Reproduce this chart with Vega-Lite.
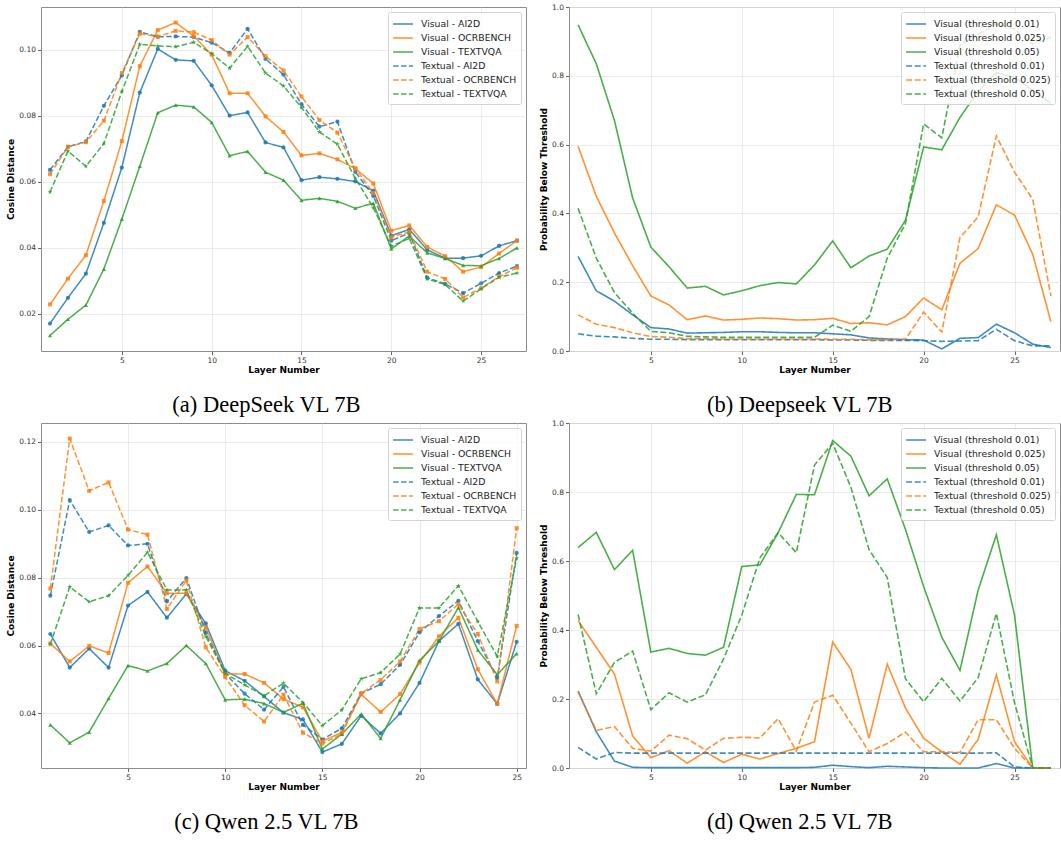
{
"$schema": "https://vega.github.io/schema/vega-lite/v6.json",
"background": "white",
"padding": {"left": 6, "top": 2, "right": 2, "bottom": 2},
"spacing": 1,
"resolve": {"scale": {"color": "independent", "strokeDash": "independent"}, "legend": {"color": "independent", "strokeDash": "independent"}},
"datasets": {
"a": [
{"layer":1,"series":"Visual - AI2D","value":0.0171},{"layer":2,"series":"Visual - AI2D","value":0.0249},{"layer":3,"series":"Visual - AI2D","value":0.0322},{"layer":4,"series":"Visual - AI2D","value":0.0476},{"layer":5,"series":"Visual - AI2D","value":0.0643},{"layer":6,"series":"Visual - AI2D","value":0.087},{"layer":7,"series":"Visual - AI2D","value":0.1002},{"layer":8,"series":"Visual - AI2D","value":0.0969},{"layer":9,"series":"Visual - AI2D","value":0.0966},{"layer":10,"series":"Visual - AI2D","value":0.0892},{"layer":11,"series":"Visual - AI2D","value":0.080},{"layer":12,"series":"Visual - AI2D","value":0.081},{"layer":13,"series":"Visual - AI2D","value":0.0719},{"layer":14,"series":"Visual - AI2D","value":0.0704},{"layer":15,"series":"Visual - AI2D","value":0.0605},{"layer":16,"series":"Visual - AI2D","value":0.0614},{"layer":17,"series":"Visual - AI2D","value":0.0609},{"layer":18,"series":"Visual - AI2D","value":0.0601},{"layer":19,"series":"Visual - AI2D","value":0.0573},{"layer":20,"series":"Visual - AI2D","value":0.0437},{"layer":21,"series":"Visual - AI2D","value":0.0456},{"layer":22,"series":"Visual - AI2D","value":0.0394},{"layer":23,"series":"Visual - AI2D","value":0.0369},{"layer":24,"series":"Visual - AI2D","value":0.0369},{"layer":25,"series":"Visual - AI2D","value":0.0376},{"layer":26,"series":"Visual - AI2D","value":0.0406},{"layer":27,"series":"Visual - AI2D","value":0.0422},
{"layer":1,"series":"Visual - OCRBENCH","value":0.0229},{"layer":2,"series":"Visual - OCRBENCH","value":0.0307},{"layer":3,"series":"Visual - OCRBENCH","value":0.0378},{"layer":4,"series":"Visual - OCRBENCH","value":0.0542},{"layer":5,"series":"Visual - OCRBENCH","value":0.0723},{"layer":6,"series":"Visual - OCRBENCH","value":0.095},{"layer":7,"series":"Visual - OCRBENCH","value":0.1059},{"layer":8,"series":"Visual - OCRBENCH","value":0.1082},{"layer":9,"series":"Visual - OCRBENCH","value":0.1041},{"layer":10,"series":"Visual - OCRBENCH","value":0.0985},{"layer":11,"series":"Visual - OCRBENCH","value":0.0868},{"layer":12,"series":"Visual - OCRBENCH","value":0.0868},{"layer":13,"series":"Visual - OCRBENCH","value":0.0798},{"layer":14,"series":"Visual - OCRBENCH","value":0.0751},{"layer":15,"series":"Visual - OCRBENCH","value":0.068},{"layer":16,"series":"Visual - OCRBENCH","value":0.0686},{"layer":17,"series":"Visual - OCRBENCH","value":0.0668},{"layer":18,"series":"Visual - OCRBENCH","value":0.064},{"layer":19,"series":"Visual - OCRBENCH","value":0.0595},{"layer":20,"series":"Visual - OCRBENCH","value":0.0452},{"layer":21,"series":"Visual - OCRBENCH","value":0.0468},{"layer":22,"series":"Visual - OCRBENCH","value":0.0403},{"layer":23,"series":"Visual - OCRBENCH","value":0.0375},{"layer":24,"series":"Visual - OCRBENCH","value":0.0328},{"layer":25,"series":"Visual - OCRBENCH","value":0.0342},{"layer":26,"series":"Visual - OCRBENCH","value":0.0383},{"layer":27,"series":"Visual - OCRBENCH","value":0.0422},
{"layer":1,"series":"Visual - TEXTVQA","value":0.0135},{"layer":2,"series":"Visual - TEXTVQA","value":0.0184},{"layer":3,"series":"Visual - TEXTVQA","value":0.0227},{"layer":4,"series":"Visual - TEXTVQA","value":0.0336},{"layer":5,"series":"Visual - TEXTVQA","value":0.0487},{"layer":6,"series":"Visual - TEXTVQA","value":0.0647},{"layer":7,"series":"Visual - TEXTVQA","value":0.0809},{"layer":8,"series":"Visual - TEXTVQA","value":0.0832},{"layer":9,"series":"Visual - TEXTVQA","value":0.0827},{"layer":10,"series":"Visual - TEXTVQA","value":0.078},{"layer":11,"series":"Visual - TEXTVQA","value":0.0679},{"layer":12,"series":"Visual - TEXTVQA","value":0.0692},{"layer":13,"series":"Visual - TEXTVQA","value":0.0629},{"layer":14,"series":"Visual - TEXTVQA","value":0.0605},{"layer":15,"series":"Visual - TEXTVQA","value":0.0544},{"layer":16,"series":"Visual - TEXTVQA","value":0.055},{"layer":17,"series":"Visual - TEXTVQA","value":0.0541},{"layer":18,"series":"Visual - TEXTVQA","value":0.052},{"layer":19,"series":"Visual - TEXTVQA","value":0.0535},{"layer":20,"series":"Visual - TEXTVQA","value":0.0397},{"layer":21,"series":"Visual - TEXTVQA","value":0.0436},{"layer":22,"series":"Visual - TEXTVQA","value":0.0385},{"layer":23,"series":"Visual - TEXTVQA","value":0.0368},{"layer":24,"series":"Visual - TEXTVQA","value":0.0347},{"layer":25,"series":"Visual - TEXTVQA","value":0.0346},{"layer":26,"series":"Visual - TEXTVQA","value":0.0368},{"layer":27,"series":"Visual - TEXTVQA","value":0.04},
{"layer":1,"series":"Textual - AI2D","value":0.0636},{"layer":2,"series":"Textual - AI2D","value":0.0706},{"layer":3,"series":"Textual - AI2D","value":0.0722},{"layer":4,"series":"Textual - AI2D","value":0.083},{"layer":5,"series":"Textual - AI2D","value":0.0922},{"layer":6,"series":"Textual - AI2D","value":0.1054},{"layer":7,"series":"Textual - AI2D","value":0.1039},{"layer":8,"series":"Textual - AI2D","value":0.104},{"layer":9,"series":"Textual - AI2D","value":0.1038},{"layer":10,"series":"Textual - AI2D","value":0.1021},{"layer":11,"series":"Textual - AI2D","value":0.099},{"layer":12,"series":"Textual - AI2D","value":0.1063},{"layer":13,"series":"Textual - AI2D","value":0.0972},{"layer":14,"series":"Textual - AI2D","value":0.0924},{"layer":15,"series":"Textual - AI2D","value":0.0835},{"layer":16,"series":"Textual - AI2D","value":0.0767},{"layer":17,"series":"Textual - AI2D","value":0.0782},{"layer":18,"series":"Textual - AI2D","value":0.063},{"layer":19,"series":"Textual - AI2D","value":0.0557},{"layer":20,"series":"Textual - AI2D","value":0.0422},{"layer":21,"series":"Textual - AI2D","value":0.0445},{"layer":22,"series":"Textual - AI2D","value":0.031},{"layer":23,"series":"Textual - AI2D","value":0.0291},{"layer":24,"series":"Textual - AI2D","value":0.0263},{"layer":25,"series":"Textual - AI2D","value":0.0293},{"layer":26,"series":"Textual - AI2D","value":0.0324},{"layer":27,"series":"Textual - AI2D","value":0.0345},
{"layer":1,"series":"Textual - OCRBENCH","value":0.0623},{"layer":2,"series":"Textual - OCRBENCH","value":0.0706},{"layer":3,"series":"Textual - OCRBENCH","value":0.072},{"layer":4,"series":"Textual - OCRBENCH","value":0.0785},{"layer":5,"series":"Textual - OCRBENCH","value":0.0929},{"layer":6,"series":"Textual - OCRBENCH","value":0.1048},{"layer":7,"series":"Textual - OCRBENCH","value":0.1039},{"layer":8,"series":"Textual - OCRBENCH","value":0.1057},{"layer":9,"series":"Textual - OCRBENCH","value":0.1053},{"layer":10,"series":"Textual - OCRBENCH","value":0.1029},{"layer":11,"series":"Textual - OCRBENCH","value":0.0985},{"layer":12,"series":"Textual - OCRBENCH","value":0.1038},{"layer":13,"series":"Textual - OCRBENCH","value":0.098},{"layer":14,"series":"Textual - OCRBENCH","value":0.0937},{"layer":15,"series":"Textual - OCRBENCH","value":0.0858},{"layer":16,"series":"Textual - OCRBENCH","value":0.0787},{"layer":17,"series":"Textual - OCRBENCH","value":0.0749},{"layer":18,"series":"Textual - OCRBENCH","value":0.064},{"layer":19,"series":"Textual - OCRBENCH","value":0.0566},{"layer":20,"series":"Textual - OCRBENCH","value":0.0432},{"layer":21,"series":"Textual - OCRBENCH","value":0.0449},{"layer":22,"series":"Textual - OCRBENCH","value":0.0328},{"layer":23,"series":"Textual - OCRBENCH","value":0.0306},{"layer":24,"series":"Textual - OCRBENCH","value":0.025},{"layer":25,"series":"Textual - OCRBENCH","value":0.0278},{"layer":26,"series":"Textual - OCRBENCH","value":0.0313},{"layer":27,"series":"Textual - OCRBENCH","value":0.034},
{"layer":1,"series":"Textual - TEXTVQA","value":0.0569},{"layer":2,"series":"Textual - TEXTVQA","value":0.0693},{"layer":3,"series":"Textual - TEXTVQA","value":0.0647},{"layer":4,"series":"Textual - TEXTVQA","value":0.0716},{"layer":5,"series":"Textual - TEXTVQA","value":0.0873},{"layer":6,"series":"Textual - TEXTVQA","value":0.1016},{"layer":7,"series":"Textual - TEXTVQA","value":0.1011},{"layer":8,"series":"Textual - TEXTVQA","value":0.1009},{"layer":9,"series":"Textual - TEXTVQA","value":0.1022},{"layer":10,"series":"Textual - TEXTVQA","value":0.0988},{"layer":11,"series":"Textual - TEXTVQA","value":0.0944},{"layer":12,"series":"Textual - TEXTVQA","value":0.101},{"layer":13,"series":"Textual - TEXTVQA","value":0.0929},{"layer":14,"series":"Textual - TEXTVQA","value":0.089},{"layer":15,"series":"Textual - TEXTVQA","value":0.0825},{"layer":16,"series":"Textual - TEXTVQA","value":0.0751},{"layer":17,"series":"Textual - TEXTVQA","value":0.0714},{"layer":18,"series":"Textual - TEXTVQA","value":0.061},{"layer":19,"series":"Textual - TEXTVQA","value":0.0522},{"layer":20,"series":"Textual - TEXTVQA","value":0.0405},{"layer":21,"series":"Textual - TEXTVQA","value":0.0429},{"layer":22,"series":"Textual - TEXTVQA","value":0.0306},{"layer":23,"series":"Textual - TEXTVQA","value":0.0289},{"layer":24,"series":"Textual - TEXTVQA","value":0.0239},{"layer":25,"series":"Textual - TEXTVQA","value":0.0276},{"layer":26,"series":"Textual - TEXTVQA","value":0.0311},{"layer":27,"series":"Textual - TEXTVQA","value":0.0324}
],
"b": [
{"layer":1,"series":"Visual (threshold 0.01)","value":0.275},{"layer":2,"series":"Visual (threshold 0.01)","value":0.175},{"layer":3,"series":"Visual (threshold 0.01)","value":0.145},{"layer":4,"series":"Visual (threshold 0.01)","value":0.105},{"layer":5,"series":"Visual (threshold 0.01)","value":0.068},{"layer":6,"series":"Visual (threshold 0.01)","value":0.064},{"layer":7,"series":"Visual (threshold 0.01)","value":0.052},{"layer":8,"series":"Visual (threshold 0.01)","value":0.053},{"layer":9,"series":"Visual (threshold 0.01)","value":0.054},{"layer":10,"series":"Visual (threshold 0.01)","value":0.056},{"layer":11,"series":"Visual (threshold 0.01)","value":0.056},{"layer":12,"series":"Visual (threshold 0.01)","value":0.054},{"layer":13,"series":"Visual (threshold 0.01)","value":0.053},{"layer":14,"series":"Visual (threshold 0.01)","value":0.053},{"layer":15,"series":"Visual (threshold 0.01)","value":0.05},{"layer":16,"series":"Visual (threshold 0.01)","value":0.047},{"layer":17,"series":"Visual (threshold 0.01)","value":0.038},{"layer":18,"series":"Visual (threshold 0.01)","value":0.035},{"layer":19,"series":"Visual (threshold 0.01)","value":0.033},{"layer":20,"series":"Visual (threshold 0.01)","value":0.032},{"layer":21,"series":"Visual (threshold 0.01)","value":0.006},{"layer":22,"series":"Visual (threshold 0.01)","value":0.037},{"layer":23,"series":"Visual (threshold 0.01)","value":0.039},{"layer":24,"series":"Visual (threshold 0.01)","value":0.078},{"layer":25,"series":"Visual (threshold 0.01)","value":0.053},{"layer":26,"series":"Visual (threshold 0.01)","value":0.02},{"layer":27,"series":"Visual (threshold 0.01)","value":0.01},
{"layer":1,"series":"Visual (threshold 0.025)","value":0.595},{"layer":2,"series":"Visual (threshold 0.025)","value":0.45},{"layer":3,"series":"Visual (threshold 0.025)","value":0.343},{"layer":4,"series":"Visual (threshold 0.025)","value":0.248},{"layer":5,"series":"Visual (threshold 0.025)","value":0.16},{"layer":6,"series":"Visual (threshold 0.025)","value":0.134},{"layer":7,"series":"Visual (threshold 0.025)","value":0.091},{"layer":8,"series":"Visual (threshold 0.025)","value":0.102},{"layer":9,"series":"Visual (threshold 0.025)","value":0.09},{"layer":10,"series":"Visual (threshold 0.025)","value":0.092},{"layer":11,"series":"Visual (threshold 0.025)","value":0.096},{"layer":12,"series":"Visual (threshold 0.025)","value":0.094},{"layer":13,"series":"Visual (threshold 0.025)","value":0.09},{"layer":14,"series":"Visual (threshold 0.025)","value":0.091},{"layer":15,"series":"Visual (threshold 0.025)","value":0.095},{"layer":16,"series":"Visual (threshold 0.025)","value":0.08},{"layer":17,"series":"Visual (threshold 0.025)","value":0.082},{"layer":18,"series":"Visual (threshold 0.025)","value":0.076},{"layer":19,"series":"Visual (threshold 0.025)","value":0.1},{"layer":20,"series":"Visual (threshold 0.025)","value":0.154},{"layer":21,"series":"Visual (threshold 0.025)","value":0.12},{"layer":22,"series":"Visual (threshold 0.025)","value":0.255},{"layer":23,"series":"Visual (threshold 0.025)","value":0.298},{"layer":24,"series":"Visual (threshold 0.025)","value":0.425},{"layer":25,"series":"Visual (threshold 0.025)","value":0.395},{"layer":26,"series":"Visual (threshold 0.025)","value":0.281},{"layer":27,"series":"Visual (threshold 0.025)","value":0.085},
{"layer":1,"series":"Visual (threshold 0.05)","value":0.948},{"layer":2,"series":"Visual (threshold 0.05)","value":0.835},{"layer":3,"series":"Visual (threshold 0.05)","value":0.67},{"layer":4,"series":"Visual (threshold 0.05)","value":0.445},{"layer":5,"series":"Visual (threshold 0.05)","value":0.302},{"layer":6,"series":"Visual (threshold 0.05)","value":0.245},{"layer":7,"series":"Visual (threshold 0.05)","value":0.183},{"layer":8,"series":"Visual (threshold 0.05)","value":0.188},{"layer":9,"series":"Visual (threshold 0.05)","value":0.163},{"layer":10,"series":"Visual (threshold 0.05)","value":0.175},{"layer":11,"series":"Visual (threshold 0.05)","value":0.19},{"layer":12,"series":"Visual (threshold 0.05)","value":0.199},{"layer":13,"series":"Visual (threshold 0.05)","value":0.195},{"layer":14,"series":"Visual (threshold 0.05)","value":0.25},{"layer":15,"series":"Visual (threshold 0.05)","value":0.32},{"layer":16,"series":"Visual (threshold 0.05)","value":0.242},{"layer":17,"series":"Visual (threshold 0.05)","value":0.276},{"layer":18,"series":"Visual (threshold 0.05)","value":0.296},{"layer":19,"series":"Visual (threshold 0.05)","value":0.38},{"layer":20,"series":"Visual (threshold 0.05)","value":0.593},{"layer":21,"series":"Visual (threshold 0.05)","value":0.585},{"layer":22,"series":"Visual (threshold 0.05)","value":0.679},{"layer":23,"series":"Visual (threshold 0.05)","value":0.755},{"layer":24,"series":"Visual (threshold 0.05)","value":0.809},{"layer":25,"series":"Visual (threshold 0.05)","value":0.795},{"layer":26,"series":"Visual (threshold 0.05)","value":0.758},{"layer":27,"series":"Visual (threshold 0.05)","value":0.72},
{"layer":1,"series":"Textual (threshold 0.01)","value":0.05},{"layer":2,"series":"Textual (threshold 0.01)","value":0.043},{"layer":3,"series":"Textual (threshold 0.01)","value":0.041},{"layer":4,"series":"Textual (threshold 0.01)","value":0.037},{"layer":5,"series":"Textual (threshold 0.01)","value":0.034},{"layer":6,"series":"Textual (threshold 0.01)","value":0.034},{"layer":7,"series":"Textual (threshold 0.01)","value":0.033},{"layer":8,"series":"Textual (threshold 0.01)","value":0.033},{"layer":9,"series":"Textual (threshold 0.01)","value":0.033},{"layer":10,"series":"Textual (threshold 0.01)","value":0.033},{"layer":11,"series":"Textual (threshold 0.01)","value":0.033},{"layer":12,"series":"Textual (threshold 0.01)","value":0.033},{"layer":13,"series":"Textual (threshold 0.01)","value":0.033},{"layer":14,"series":"Textual (threshold 0.01)","value":0.033},{"layer":15,"series":"Textual (threshold 0.01)","value":0.032},{"layer":16,"series":"Textual (threshold 0.01)","value":0.032},{"layer":17,"series":"Textual (threshold 0.01)","value":0.031},{"layer":18,"series":"Textual (threshold 0.01)","value":0.031},{"layer":19,"series":"Textual (threshold 0.01)","value":0.031},{"layer":20,"series":"Textual (threshold 0.01)","value":0.03},{"layer":21,"series":"Textual (threshold 0.01)","value":0.028},{"layer":22,"series":"Textual (threshold 0.01)","value":0.029},{"layer":23,"series":"Textual (threshold 0.01)","value":0.03},{"layer":24,"series":"Textual (threshold 0.01)","value":0.063},{"layer":25,"series":"Textual (threshold 0.01)","value":0.03},{"layer":26,"series":"Textual (threshold 0.01)","value":0.015},{"layer":27,"series":"Textual (threshold 0.01)","value":0.015},
{"layer":1,"series":"Textual (threshold 0.025)","value":0.105},{"layer":2,"series":"Textual (threshold 0.025)","value":0.078},{"layer":3,"series":"Textual (threshold 0.025)","value":0.068},{"layer":4,"series":"Textual (threshold 0.025)","value":0.053},{"layer":5,"series":"Textual (threshold 0.025)","value":0.042},{"layer":6,"series":"Textual (threshold 0.025)","value":0.04},{"layer":7,"series":"Textual (threshold 0.025)","value":0.036},{"layer":8,"series":"Textual (threshold 0.025)","value":0.036},{"layer":9,"series":"Textual (threshold 0.025)","value":0.035},{"layer":10,"series":"Textual (threshold 0.025)","value":0.035},{"layer":11,"series":"Textual (threshold 0.025)","value":0.035},{"layer":12,"series":"Textual (threshold 0.025)","value":0.035},{"layer":13,"series":"Textual (threshold 0.025)","value":0.035},{"layer":14,"series":"Textual (threshold 0.025)","value":0.035},{"layer":15,"series":"Textual (threshold 0.025)","value":0.034},{"layer":16,"series":"Textual (threshold 0.025)","value":0.034},{"layer":17,"series":"Textual (threshold 0.025)","value":0.033},{"layer":18,"series":"Textual (threshold 0.025)","value":0.033},{"layer":19,"series":"Textual (threshold 0.025)","value":0.034},{"layer":20,"series":"Textual (threshold 0.025)","value":0.113},{"layer":21,"series":"Textual (threshold 0.025)","value":0.055},{"layer":22,"series":"Textual (threshold 0.025)","value":0.33},{"layer":23,"series":"Textual (threshold 0.025)","value":0.39},{"layer":24,"series":"Textual (threshold 0.025)","value":0.625},{"layer":25,"series":"Textual (threshold 0.025)","value":0.52},{"layer":26,"series":"Textual (threshold 0.025)","value":0.441},{"layer":27,"series":"Textual (threshold 0.025)","value":0.16},
{"layer":1,"series":"Textual (threshold 0.05)","value":0.415},{"layer":2,"series":"Textual (threshold 0.05)","value":0.27},{"layer":3,"series":"Textual (threshold 0.05)","value":0.17},{"layer":4,"series":"Textual (threshold 0.05)","value":0.11},{"layer":5,"series":"Textual (threshold 0.05)","value":0.057},{"layer":6,"series":"Textual (threshold 0.05)","value":0.053},{"layer":7,"series":"Textual (threshold 0.05)","value":0.043},{"layer":8,"series":"Textual (threshold 0.05)","value":0.041},{"layer":9,"series":"Textual (threshold 0.05)","value":0.04},{"layer":10,"series":"Textual (threshold 0.05)","value":0.04},{"layer":11,"series":"Textual (threshold 0.05)","value":0.04},{"layer":12,"series":"Textual (threshold 0.05)","value":0.04},{"layer":13,"series":"Textual (threshold 0.05)","value":0.04},{"layer":14,"series":"Textual (threshold 0.05)","value":0.04},{"layer":15,"series":"Textual (threshold 0.05)","value":0.075},{"layer":16,"series":"Textual (threshold 0.05)","value":0.057},{"layer":17,"series":"Textual (threshold 0.05)","value":0.1},{"layer":18,"series":"Textual (threshold 0.05)","value":0.27},{"layer":19,"series":"Textual (threshold 0.05)","value":0.37},{"layer":20,"series":"Textual (threshold 0.05)","value":0.66},{"layer":21,"series":"Textual (threshold 0.05)","value":0.62},{"layer":22,"series":"Textual (threshold 0.05)","value":0.89},{"layer":23,"series":"Textual (threshold 0.05)","value":0.92},{"layer":24,"series":"Textual (threshold 0.05)","value":0.951},{"layer":25,"series":"Textual (threshold 0.05)","value":0.936},{"layer":26,"series":"Textual (threshold 0.05)","value":0.892},{"layer":27,"series":"Textual (threshold 0.05)","value":0.912}
],
"c": [
{"layer":1,"series":"Visual - AI2D","value":0.0634},{"layer":2,"series":"Visual - AI2D","value":0.0535},{"layer":3,"series":"Visual - AI2D","value":0.0591},{"layer":4,"series":"Visual - AI2D","value":0.0535},{"layer":5,"series":"Visual - AI2D","value":0.0718},{"layer":6,"series":"Visual - AI2D","value":0.0758},{"layer":7,"series":"Visual - AI2D","value":0.0682},{"layer":8,"series":"Visual - AI2D","value":0.0752},{"layer":9,"series":"Visual - AI2D","value":0.0665},{"layer":10,"series":"Visual - AI2D","value":0.0526},{"layer":11,"series":"Visual - AI2D","value":0.0496},{"layer":12,"series":"Visual - AI2D","value":0.045},{"layer":13,"series":"Visual - AI2D","value":0.0402},{"layer":14,"series":"Visual - AI2D","value":0.0382},{"layer":15,"series":"Visual - AI2D","value":0.0286},{"layer":16,"series":"Visual - AI2D","value":0.031},{"layer":17,"series":"Visual - AI2D","value":0.0393},{"layer":18,"series":"Visual - AI2D","value":0.0341},{"layer":19,"series":"Visual - AI2D","value":0.040},{"layer":20,"series":"Visual - AI2D","value":0.049},{"layer":21,"series":"Visual - AI2D","value":0.0613},{"layer":22,"series":"Visual - AI2D","value":0.0664},{"layer":23,"series":"Visual - AI2D","value":0.05},{"layer":24,"series":"Visual - AI2D","value":0.0428},{"layer":25,"series":"Visual - AI2D","value":0.0611},
{"layer":1,"series":"Visual - OCRBENCH","value":0.0606},{"layer":2,"series":"Visual - OCRBENCH","value":0.0553},{"layer":3,"series":"Visual - OCRBENCH","value":0.0599},{"layer":4,"series":"Visual - OCRBENCH","value":0.0578},{"layer":5,"series":"Visual - OCRBENCH","value":0.0785},{"layer":6,"series":"Visual - OCRBENCH","value":0.0833},{"layer":7,"series":"Visual - OCRBENCH","value":0.0754},{"layer":8,"series":"Visual - OCRBENCH","value":0.0754},{"layer":9,"series":"Visual - OCRBENCH","value":0.0653},{"layer":10,"series":"Visual - OCRBENCH","value":0.0516},{"layer":11,"series":"Visual - OCRBENCH","value":0.0516},{"layer":12,"series":"Visual - OCRBENCH","value":0.049},{"layer":13,"series":"Visual - OCRBENCH","value":0.0442},{"layer":14,"series":"Visual - OCRBENCH","value":0.0418},{"layer":15,"series":"Visual - OCRBENCH","value":0.0318},{"layer":16,"series":"Visual - OCRBENCH","value":0.0344},{"layer":17,"series":"Visual - OCRBENCH","value":0.0456},{"layer":18,"series":"Visual - OCRBENCH","value":0.0404},{"layer":19,"series":"Visual - OCRBENCH","value":0.0457},{"layer":20,"series":"Visual - OCRBENCH","value":0.055},{"layer":21,"series":"Visual - OCRBENCH","value":0.0627},{"layer":22,"series":"Visual - OCRBENCH","value":0.0682},{"layer":23,"series":"Visual - OCRBENCH","value":0.053},{"layer":24,"series":"Visual - OCRBENCH","value":0.0428},{"layer":25,"series":"Visual - OCRBENCH","value":0.0658},
{"layer":1,"series":"Visual - TEXTVQA","value":0.0366},{"layer":2,"series":"Visual - TEXTVQA","value":0.0313},{"layer":3,"series":"Visual - TEXTVQA","value":0.0345},{"layer":4,"series":"Visual - TEXTVQA","value":0.0444},{"layer":5,"series":"Visual - TEXTVQA","value":0.0541},{"layer":6,"series":"Visual - TEXTVQA","value":0.0525},{"layer":7,"series":"Visual - TEXTVQA","value":0.0547},{"layer":8,"series":"Visual - TEXTVQA","value":0.06},{"layer":9,"series":"Visual - TEXTVQA","value":0.0547},{"layer":10,"series":"Visual - TEXTVQA","value":0.044},{"layer":11,"series":"Visual - TEXTVQA","value":0.0442},{"layer":12,"series":"Visual - TEXTVQA","value":0.0429},{"layer":13,"series":"Visual - TEXTVQA","value":0.0403},{"layer":14,"series":"Visual - TEXTVQA","value":0.043},{"layer":15,"series":"Visual - TEXTVQA","value":0.0295},{"layer":16,"series":"Visual - TEXTVQA","value":0.0339},{"layer":17,"series":"Visual - TEXTVQA","value":0.0398},{"layer":18,"series":"Visual - TEXTVQA","value":0.0326},{"layer":19,"series":"Visual - TEXTVQA","value":0.044},{"layer":20,"series":"Visual - TEXTVQA","value":0.0556},{"layer":21,"series":"Visual - TEXTVQA","value":0.0613},{"layer":22,"series":"Visual - TEXTVQA","value":0.0712},{"layer":23,"series":"Visual - TEXTVQA","value":0.0587},{"layer":24,"series":"Visual - TEXTVQA","value":0.0514},{"layer":25,"series":"Visual - TEXTVQA","value":0.0576},
{"layer":1,"series":"Textual - AI2D","value":0.0747},{"layer":2,"series":"Textual - AI2D","value":0.1029},{"layer":3,"series":"Textual - AI2D","value":0.0935},{"layer":4,"series":"Textual - AI2D","value":0.0954},{"layer":5,"series":"Textual - AI2D","value":0.0895},{"layer":6,"series":"Textual - AI2D","value":0.09},{"layer":7,"series":"Textual - AI2D","value":0.073},{"layer":8,"series":"Textual - AI2D","value":0.0799},{"layer":9,"series":"Textual - AI2D","value":0.0637},{"layer":10,"series":"Textual - AI2D","value":0.0518},{"layer":11,"series":"Textual - AI2D","value":0.0458},{"layer":12,"series":"Textual - AI2D","value":0.0411},{"layer":13,"series":"Textual - AI2D","value":0.0478},{"layer":14,"series":"Textual - AI2D","value":0.0366},{"layer":15,"series":"Textual - AI2D","value":0.0323},{"layer":16,"series":"Textual - AI2D","value":0.0356},{"layer":17,"series":"Textual - AI2D","value":0.0459},{"layer":18,"series":"Textual - AI2D","value":0.0486},{"layer":19,"series":"Textual - AI2D","value":0.0543},{"layer":20,"series":"Textual - AI2D","value":0.0639},{"layer":21,"series":"Textual - AI2D","value":0.0687},{"layer":22,"series":"Textual - AI2D","value":0.0732},{"layer":23,"series":"Textual - AI2D","value":0.0613},{"layer":24,"series":"Textual - AI2D","value":0.0505},{"layer":25,"series":"Textual - AI2D","value":0.0873},
{"layer":1,"series":"Textual - OCRBENCH","value":0.0768},{"layer":2,"series":"Textual - OCRBENCH","value":0.121},{"layer":3,"series":"Textual - OCRBENCH","value":0.1056},{"layer":4,"series":"Textual - OCRBENCH","value":0.1081},{"layer":5,"series":"Textual - OCRBENCH","value":0.0942},{"layer":6,"series":"Textual - OCRBENCH","value":0.0927},{"layer":7,"series":"Textual - OCRBENCH","value":0.0708},{"layer":8,"series":"Textual - OCRBENCH","value":0.0792},{"layer":9,"series":"Textual - OCRBENCH","value":0.0595},{"layer":10,"series":"Textual - OCRBENCH","value":0.0507},{"layer":11,"series":"Textual - OCRBENCH","value":0.0424},{"layer":12,"series":"Textual - OCRBENCH","value":0.0376},{"layer":13,"series":"Textual - OCRBENCH","value":0.0455},{"layer":14,"series":"Textual - OCRBENCH","value":0.0343},{"layer":15,"series":"Textual - OCRBENCH","value":0.0311},{"layer":16,"series":"Textual - OCRBENCH","value":0.0339},{"layer":17,"series":"Textual - OCRBENCH","value":0.0459},{"layer":18,"series":"Textual - OCRBENCH","value":0.0499},{"layer":19,"series":"Textual - OCRBENCH","value":0.0553},{"layer":20,"series":"Textual - OCRBENCH","value":0.0649},{"layer":21,"series":"Textual - OCRBENCH","value":0.0672},{"layer":22,"series":"Textual - OCRBENCH","value":0.0722},{"layer":23,"series":"Textual - OCRBENCH","value":0.0634},{"layer":24,"series":"Textual - OCRBENCH","value":0.0494},{"layer":25,"series":"Textual - OCRBENCH","value":0.0946},
{"layer":1,"series":"Textual - TEXTVQA","value":0.0604},{"layer":2,"series":"Textual - TEXTVQA","value":0.0773},{"layer":3,"series":"Textual - TEXTVQA","value":0.0729},{"layer":4,"series":"Textual - TEXTVQA","value":0.0747},{"layer":5,"series":"Textual - TEXTVQA","value":0.0807},{"layer":6,"series":"Textual - TEXTVQA","value":0.0875},{"layer":7,"series":"Textual - TEXTVQA","value":0.0764},{"layer":8,"series":"Textual - TEXTVQA","value":0.0764},{"layer":9,"series":"Textual - TEXTVQA","value":0.0627},{"layer":10,"series":"Textual - TEXTVQA","value":0.0518},{"layer":11,"series":"Textual - TEXTVQA","value":0.0484},{"layer":12,"series":"Textual - TEXTVQA","value":0.0452},{"layer":13,"series":"Textual - TEXTVQA","value":0.0489},{"layer":14,"series":"Textual - TEXTVQA","value":0.0432},{"layer":15,"series":"Textual - TEXTVQA","value":0.0364},{"layer":16,"series":"Textual - TEXTVQA","value":0.041},{"layer":17,"series":"Textual - TEXTVQA","value":0.0502},{"layer":18,"series":"Textual - TEXTVQA","value":0.052},{"layer":19,"series":"Textual - TEXTVQA","value":0.0575},{"layer":20,"series":"Textual - TEXTVQA","value":0.0711},{"layer":21,"series":"Textual - TEXTVQA","value":0.0711},{"layer":22,"series":"Textual - TEXTVQA","value":0.0776},{"layer":23,"series":"Textual - TEXTVQA","value":0.0671},{"layer":24,"series":"Textual - TEXTVQA","value":0.0568},{"layer":25,"series":"Textual - TEXTVQA","value":0.0858}
],
"d": [
{"layer":1,"series":"Visual (threshold 0.01)","value":0.223},{"layer":2,"series":"Visual (threshold 0.01)","value":0.105},{"layer":3,"series":"Visual (threshold 0.01)","value":0.02},{"layer":4,"series":"Visual (threshold 0.01)","value":0.002},{"layer":5,"series":"Visual (threshold 0.01)","value":0.001},{"layer":6,"series":"Visual (threshold 0.01)","value":0.001},{"layer":7,"series":"Visual (threshold 0.01)","value":0.001},{"layer":8,"series":"Visual (threshold 0.01)","value":0.001},{"layer":9,"series":"Visual (threshold 0.01)","value":0.001},{"layer":10,"series":"Visual (threshold 0.01)","value":0.001},{"layer":11,"series":"Visual (threshold 0.01)","value":0.001},{"layer":12,"series":"Visual (threshold 0.01)","value":0.001},{"layer":13,"series":"Visual (threshold 0.01)","value":0.001},{"layer":14,"series":"Visual (threshold 0.01)","value":0.002},{"layer":15,"series":"Visual (threshold 0.01)","value":0.008},{"layer":16,"series":"Visual (threshold 0.01)","value":0.004},{"layer":17,"series":"Visual (threshold 0.01)","value":0.001},{"layer":18,"series":"Visual (threshold 0.01)","value":0.005},{"layer":19,"series":"Visual (threshold 0.01)","value":0.003},{"layer":20,"series":"Visual (threshold 0.01)","value":0.001},{"layer":21,"series":"Visual (threshold 0.01)","value":0.0},{"layer":22,"series":"Visual (threshold 0.01)","value":0.0},{"layer":23,"series":"Visual (threshold 0.01)","value":0.0},{"layer":24,"series":"Visual (threshold 0.01)","value":0.013},{"layer":25,"series":"Visual (threshold 0.01)","value":0.0},{"layer":26,"series":"Visual (threshold 0.01)","value":0.0},{"layer":27,"series":"Visual (threshold 0.01)","value":0.0},
{"layer":1,"series":"Visual (threshold 0.025)","value":0.427},{"layer":2,"series":"Visual (threshold 0.025)","value":0.35},{"layer":3,"series":"Visual (threshold 0.025)","value":0.272},{"layer":4,"series":"Visual (threshold 0.025)","value":0.093},{"layer":5,"series":"Visual (threshold 0.025)","value":0.03},{"layer":6,"series":"Visual (threshold 0.025)","value":0.05},{"layer":7,"series":"Visual (threshold 0.025)","value":0.014},{"layer":8,"series":"Visual (threshold 0.025)","value":0.047},{"layer":9,"series":"Visual (threshold 0.025)","value":0.016},{"layer":10,"series":"Visual (threshold 0.025)","value":0.04},{"layer":11,"series":"Visual (threshold 0.025)","value":0.026},{"layer":12,"series":"Visual (threshold 0.025)","value":0.042},{"layer":13,"series":"Visual (threshold 0.025)","value":0.057},{"layer":14,"series":"Visual (threshold 0.025)","value":0.076},{"layer":15,"series":"Visual (threshold 0.025)","value":0.365},{"layer":16,"series":"Visual (threshold 0.025)","value":0.286},{"layer":17,"series":"Visual (threshold 0.025)","value":0.086},{"layer":18,"series":"Visual (threshold 0.025)","value":0.301},{"layer":19,"series":"Visual (threshold 0.025)","value":0.174},{"layer":20,"series":"Visual (threshold 0.025)","value":0.086},{"layer":21,"series":"Visual (threshold 0.025)","value":0.047},{"layer":22,"series":"Visual (threshold 0.025)","value":0.011},{"layer":23,"series":"Visual (threshold 0.025)","value":0.083},{"layer":24,"series":"Visual (threshold 0.025)","value":0.27},{"layer":25,"series":"Visual (threshold 0.025)","value":0.076},{"layer":26,"series":"Visual (threshold 0.025)","value":0.0},{"layer":27,"series":"Visual (threshold 0.025)","value":0.0},
{"layer":1,"series":"Visual (threshold 0.05)","value":0.639},{"layer":2,"series":"Visual (threshold 0.05)","value":0.683},{"layer":3,"series":"Visual (threshold 0.05)","value":0.575},{"layer":4,"series":"Visual (threshold 0.05)","value":0.631},{"layer":5,"series":"Visual (threshold 0.05)","value":0.336},{"layer":6,"series":"Visual (threshold 0.05)","value":0.347},{"layer":7,"series":"Visual (threshold 0.05)","value":0.332},{"layer":8,"series":"Visual (threshold 0.05)","value":0.327},{"layer":9,"series":"Visual (threshold 0.05)","value":0.35},{"layer":10,"series":"Visual (threshold 0.05)","value":0.584},{"layer":11,"series":"Visual (threshold 0.05)","value":0.589},{"layer":12,"series":"Visual (threshold 0.05)","value":0.682},{"layer":13,"series":"Visual (threshold 0.05)","value":0.793},{"layer":14,"series":"Visual (threshold 0.05)","value":0.792},{"layer":15,"series":"Visual (threshold 0.05)","value":0.949},{"layer":16,"series":"Visual (threshold 0.05)","value":0.904},{"layer":17,"series":"Visual (threshold 0.05)","value":0.789},{"layer":18,"series":"Visual (threshold 0.05)","value":0.838},{"layer":19,"series":"Visual (threshold 0.05)","value":0.692},{"layer":20,"series":"Visual (threshold 0.05)","value":0.526},{"layer":21,"series":"Visual (threshold 0.05)","value":0.379},{"layer":22,"series":"Visual (threshold 0.05)","value":0.283},{"layer":23,"series":"Visual (threshold 0.05)","value":0.516},{"layer":24,"series":"Visual (threshold 0.05)","value":0.676},{"layer":25,"series":"Visual (threshold 0.05)","value":0.443},{"layer":26,"series":"Visual (threshold 0.05)","value":0.0},{"layer":27,"series":"Visual (threshold 0.05)","value":0.0},
{"layer":1,"series":"Textual (threshold 0.01)","value":0.06},{"layer":2,"series":"Textual (threshold 0.01)","value":0.026},{"layer":3,"series":"Textual (threshold 0.01)","value":0.045},{"layer":4,"series":"Textual (threshold 0.01)","value":0.043},{"layer":5,"series":"Textual (threshold 0.01)","value":0.043},{"layer":6,"series":"Textual (threshold 0.01)","value":0.043},{"layer":7,"series":"Textual (threshold 0.01)","value":0.043},{"layer":8,"series":"Textual (threshold 0.01)","value":0.043},{"layer":9,"series":"Textual (threshold 0.01)","value":0.043},{"layer":10,"series":"Textual (threshold 0.01)","value":0.043},{"layer":11,"series":"Textual (threshold 0.01)","value":0.043},{"layer":12,"series":"Textual (threshold 0.01)","value":0.043},{"layer":13,"series":"Textual (threshold 0.01)","value":0.043},{"layer":14,"series":"Textual (threshold 0.01)","value":0.043},{"layer":15,"series":"Textual (threshold 0.01)","value":0.043},{"layer":16,"series":"Textual (threshold 0.01)","value":0.043},{"layer":17,"series":"Textual (threshold 0.01)","value":0.043},{"layer":18,"series":"Textual (threshold 0.01)","value":0.043},{"layer":19,"series":"Textual (threshold 0.01)","value":0.043},{"layer":20,"series":"Textual (threshold 0.01)","value":0.043},{"layer":21,"series":"Textual (threshold 0.01)","value":0.043},{"layer":22,"series":"Textual (threshold 0.01)","value":0.043},{"layer":23,"series":"Textual (threshold 0.01)","value":0.043},{"layer":24,"series":"Textual (threshold 0.01)","value":0.044},{"layer":25,"series":"Textual (threshold 0.01)","value":0.003},{"layer":26,"series":"Textual (threshold 0.01)","value":0.0},{"layer":27,"series":"Textual (threshold 0.01)","value":0.0},
{"layer":1,"series":"Textual (threshold 0.025)","value":0.22},{"layer":2,"series":"Textual (threshold 0.025)","value":0.109},{"layer":3,"series":"Textual (threshold 0.025)","value":0.12},{"layer":4,"series":"Textual (threshold 0.025)","value":0.057},{"layer":5,"series":"Textual (threshold 0.025)","value":0.049},{"layer":6,"series":"Textual (threshold 0.025)","value":0.095},{"layer":7,"series":"Textual (threshold 0.025)","value":0.085},{"layer":8,"series":"Textual (threshold 0.025)","value":0.052},{"layer":9,"series":"Textual (threshold 0.025)","value":0.086},{"layer":10,"series":"Textual (threshold 0.025)","value":0.089},{"layer":11,"series":"Textual (threshold 0.025)","value":0.087},{"layer":12,"series":"Textual (threshold 0.025)","value":0.143},{"layer":13,"series":"Textual (threshold 0.025)","value":0.049},{"layer":14,"series":"Textual (threshold 0.025)","value":0.191},{"layer":15,"series":"Textual (threshold 0.025)","value":0.211},{"layer":16,"series":"Textual (threshold 0.025)","value":0.13},{"layer":17,"series":"Textual (threshold 0.025)","value":0.047},{"layer":18,"series":"Textual (threshold 0.025)","value":0.071},{"layer":19,"series":"Textual (threshold 0.025)","value":0.104},{"layer":20,"series":"Textual (threshold 0.025)","value":0.047},{"layer":21,"series":"Textual (threshold 0.025)","value":0.047},{"layer":22,"series":"Textual (threshold 0.025)","value":0.045},{"layer":23,"series":"Textual (threshold 0.025)","value":0.14},{"layer":24,"series":"Textual (threshold 0.025)","value":0.14},{"layer":25,"series":"Textual (threshold 0.025)","value":0.057},{"layer":26,"series":"Textual (threshold 0.025)","value":0.0},{"layer":27,"series":"Textual (threshold 0.025)","value":0.0},
{"layer":1,"series":"Textual (threshold 0.05)","value":0.445},{"layer":2,"series":"Textual (threshold 0.05)","value":0.215},{"layer":3,"series":"Textual (threshold 0.05)","value":0.306},{"layer":4,"series":"Textual (threshold 0.05)","value":0.339},{"layer":5,"series":"Textual (threshold 0.05)","value":0.169},{"layer":6,"series":"Textual (threshold 0.05)","value":0.218},{"layer":7,"series":"Textual (threshold 0.05)","value":0.191},{"layer":8,"series":"Textual (threshold 0.05)","value":0.212},{"layer":9,"series":"Textual (threshold 0.05)","value":0.316},{"layer":10,"series":"Textual (threshold 0.05)","value":0.443},{"layer":11,"series":"Textual (threshold 0.05)","value":0.609},{"layer":12,"series":"Textual (threshold 0.05)","value":0.682},{"layer":13,"series":"Textual (threshold 0.05)","value":0.624},{"layer":14,"series":"Textual (threshold 0.05)","value":0.878},{"layer":15,"series":"Textual (threshold 0.05)","value":0.941},{"layer":16,"series":"Textual (threshold 0.05)","value":0.814},{"layer":17,"series":"Textual (threshold 0.05)","value":0.633},{"layer":18,"series":"Textual (threshold 0.05)","value":0.552},{"layer":19,"series":"Textual (threshold 0.05)","value":0.259},{"layer":20,"series":"Textual (threshold 0.05)","value":0.192},{"layer":21,"series":"Textual (threshold 0.05)","value":0.26},{"layer":22,"series":"Textual (threshold 0.05)","value":0.194},{"layer":23,"series":"Textual (threshold 0.05)","value":0.262},{"layer":24,"series":"Textual (threshold 0.05)","value":0.448},{"layer":25,"series":"Textual (threshold 0.05)","value":0.189},{"layer":26,"series":"Textual (threshold 0.05)","value":0.0},{"layer":27,"series":"Textual (threshold 0.05)","value":0.0}
]
},
"vconcat": [
{"hconcat": [
{"width": 485, "height": 344, "data": {"name": "a"},
 "title": {"text": "(a) DeepSeek VL 7B"},
 "encoding": {
  "x": {"field": "layer", "type": "quantitative", "scale": {"domain": [0.5, 27.5], "nice": false, "zero": false}, "axis": {"values": [5, 10, 15, 20, 25], "title": "Layer Number"}},
  "y": {"field": "value", "type": "quantitative", "scale": {"domain": [0.0088, 0.1129], "nice": false, "zero": false}, "axis": {"values": [0.02, 0.04, 0.06, 0.08, 0.10], "format": ".2f", "title": "Cosine Distance"}}
 },
 "layer": [
  {"mark": {"type": "line", "strokeWidth": 1.5, "opacity": 0.85},
   "encoding": {
    "color": {"field": "series", "type": "nominal", "scale": {"domain": ["Visual - AI2D", "Visual - OCRBENCH", "Visual - TEXTVQA", "Textual - AI2D", "Textual - OCRBENCH", "Textual - TEXTVQA"], "range": ["#1f77b4", "#ff7f0e", "#2ca02c", "#1f77b4", "#ff7f0e", "#2ca02c"]}, "legend": {"title": null, "symbolType": "M-1,0H1.9"}},
    "strokeDash": {"field": "series", "type": "nominal", "scale": {"domain": ["Visual - AI2D", "Visual - OCRBENCH", "Visual - TEXTVQA", "Textual - AI2D", "Textual - OCRBENCH", "Textual - TEXTVQA"], "range": [[1, 0], [1, 0], [1, 0], [5.5, 2.4], [5.5, 2.4], [5.5, 2.4]]}, "legend": {"title": null, "symbolType": "M-1,0H1.9"}}
   }},
  {"transform": [{"filter": {"field": "series", "oneOf": ["Visual - AI2D", "Textual - AI2D"]}}],
   "mark": {"type": "point", "shape": "circle", "filled": true, "opacity": 0.85, "size": 18},
   "encoding": {"color": {"field": "series", "type": "nominal", "legend": null}}},
  {"transform": [{"filter": {"field": "series", "oneOf": ["Visual - OCRBENCH", "Textual - OCRBENCH"]}}],
   "mark": {"type": "point", "shape": "square", "filled": true, "opacity": 0.85, "size": 16},
   "encoding": {"color": {"field": "series", "type": "nominal", "legend": null}}},
  {"transform": [{"filter": {"field": "series", "equal": "Visual - TEXTVQA"}}],
   "mark": {"type": "point", "shape": "triangle-up", "filled": true, "opacity": 0.85, "size": 18},
   "encoding": {"color": {"field": "series", "type": "nominal", "legend": null}}},
  {"transform": [{"filter": {"field": "series", "equal": "Textual - TEXTVQA"}}],
   "mark": {"type": "point", "shape": "M0,-1L0.2245,-0.309L0.951,-0.309L0.363,0.118L0.588,0.809L0,0.382L-0.588,0.809L-0.363,0.118L-0.951,-0.309L-0.2245,-0.309Z", "filled": true, "opacity": 0.85, "size": 28},
   "encoding": {"color": {"field": "series", "type": "nominal", "legend": null}}}
 ]},
{"width": 491, "height": 344, "data": {"name": "b"},
 "title": {"text": "(b) Deepseek VL 7B"},
 "mark": {"type": "line", "strokeWidth": 1.6, "opacity": 0.85},
 "encoding": {
  "x": {"field": "layer", "type": "quantitative", "scale": {"domain": [0.5, 27.5], "nice": false, "zero": false}, "axis": {"values": [5, 10, 15, 20, 25], "title": "Layer Number"}},
  "y": {"field": "value", "type": "quantitative", "scale": {"domain": [0, 1], "nice": false}, "axis": {"values": [0, 0.2, 0.4, 0.6, 0.8, 1.0], "format": ".1f", "title": "Probability Below Threshold"}},
  "color": {"field": "series", "type": "nominal", "scale": {"domain": ["Visual (threshold 0.01)", "Visual (threshold 0.025)", "Visual (threshold 0.05)", "Textual (threshold 0.01)", "Textual (threshold 0.025)", "Textual (threshold 0.05)"], "range": ["#1f77b4", "#ff7f0e", "#2ca02c", "#1f77b4", "#ff7f0e", "#2ca02c"]}, "legend": {"title": null, "symbolType": "M-1,0H1.9"}},
  "strokeDash": {"field": "series", "type": "nominal", "scale": {"domain": ["Visual (threshold 0.01)", "Visual (threshold 0.025)", "Visual (threshold 0.05)", "Textual (threshold 0.01)", "Textual (threshold 0.025)", "Textual (threshold 0.05)"], "range": [[1, 0], [1, 0], [1, 0], [6, 2.6], [6, 2.6], [6, 2.6]]}, "legend": {"title": null, "symbolType": "M-1,0H1.9"}}
 }}
], "spacing": 12, "resolve": {"scale": {"color": "independent", "strokeDash": "independent"}, "legend": {"color": "independent", "strokeDash": "independent"}}},
{"hconcat": [
{"width": 485, "height": 345, "data": {"name": "c"},
 "title": {"text": "(c) Qwen 2.5 VL 7B"},
 "encoding": {
  "x": {"field": "layer", "type": "quantitative", "scale": {"domain": [0.52, 25.48], "nice": false, "zero": false}, "axis": {"values": [5, 10, 15, 20, 25], "title": "Layer Number"}},
  "y": {"field": "value", "type": "quantitative", "scale": {"domain": [0.0239, 0.1256], "nice": false, "zero": false}, "axis": {"values": [0.04, 0.06, 0.08, 0.10, 0.12], "format": ".2f", "title": "Cosine Distance"}}
 },
 "layer": [
  {"mark": {"type": "line", "strokeWidth": 1.5, "opacity": 0.85},
   "encoding": {
    "color": {"field": "series", "type": "nominal", "scale": {"domain": ["Visual - AI2D", "Visual - OCRBENCH", "Visual - TEXTVQA", "Textual - AI2D", "Textual - OCRBENCH", "Textual - TEXTVQA"], "range": ["#1f77b4", "#ff7f0e", "#2ca02c", "#1f77b4", "#ff7f0e", "#2ca02c"]}, "legend": {"title": null, "symbolType": "M-1,0H1.9"}},
    "strokeDash": {"field": "series", "type": "nominal", "scale": {"domain": ["Visual - AI2D", "Visual - OCRBENCH", "Visual - TEXTVQA", "Textual - AI2D", "Textual - OCRBENCH", "Textual - TEXTVQA"], "range": [[1, 0], [1, 0], [1, 0], [5.5, 2.4], [5.5, 2.4], [5.5, 2.4]]}, "legend": {"title": null, "symbolType": "M-1,0H1.9"}}
   }},
  {"transform": [{"filter": {"field": "series", "oneOf": ["Visual - AI2D", "Textual - AI2D"]}}],
   "mark": {"type": "point", "shape": "circle", "filled": true, "opacity": 0.85, "size": 18},
   "encoding": {"color": {"field": "series", "type": "nominal", "legend": null}}},
  {"transform": [{"filter": {"field": "series", "oneOf": ["Visual - OCRBENCH", "Textual - OCRBENCH"]}}],
   "mark": {"type": "point", "shape": "square", "filled": true, "opacity": 0.85, "size": 16},
   "encoding": {"color": {"field": "series", "type": "nominal", "legend": null}}},
  {"transform": [{"filter": {"field": "series", "equal": "Visual - TEXTVQA"}}],
   "mark": {"type": "point", "shape": "triangle-up", "filled": true, "opacity": 0.85, "size": 18},
   "encoding": {"color": {"field": "series", "type": "nominal", "legend": null}}},
  {"transform": [{"filter": {"field": "series", "equal": "Textual - TEXTVQA"}}],
   "mark": {"type": "point", "shape": "M0,-1L0.2245,-0.309L0.951,-0.309L0.363,0.118L0.588,0.809L0,0.382L-0.588,0.809L-0.363,0.118L-0.951,-0.309L-0.2245,-0.309Z", "filled": true, "opacity": 0.85, "size": 28},
   "encoding": {"color": {"field": "series", "type": "nominal", "legend": null}}}
 ]},
{"width": 491, "height": 345, "data": {"name": "d"},
 "title": {"text": "(d) Qwen 2.5 VL 7B"},
 "mark": {"type": "line", "strokeWidth": 1.6, "opacity": 0.85},
 "encoding": {
  "x": {"field": "layer", "type": "quantitative", "scale": {"domain": [0.5, 27.5], "nice": false, "zero": false}, "axis": {"values": [5, 10, 15, 20, 25], "title": "Layer Number"}},
  "y": {"field": "value", "type": "quantitative", "scale": {"domain": [0, 1], "nice": false}, "axis": {"values": [0, 0.2, 0.4, 0.6, 0.8, 1.0], "format": ".1f", "title": "Probability Below Threshold"}},
  "color": {"field": "series", "type": "nominal", "scale": {"domain": ["Visual (threshold 0.01)", "Visual (threshold 0.025)", "Visual (threshold 0.05)", "Textual (threshold 0.01)", "Textual (threshold 0.025)", "Textual (threshold 0.05)"], "range": ["#1f77b4", "#ff7f0e", "#2ca02c", "#1f77b4", "#ff7f0e", "#2ca02c"]}, "legend": {"title": null, "symbolType": "M-1,0H1.9"}},
  "strokeDash": {"field": "series", "type": "nominal", "scale": {"domain": ["Visual (threshold 0.01)", "Visual (threshold 0.025)", "Visual (threshold 0.05)", "Textual (threshold 0.01)", "Textual (threshold 0.025)", "Textual (threshold 0.05)"], "range": [[1, 0], [1, 0], [1, 0], [6, 2.6], [6, 2.6], [6, 2.6]]}, "legend": {"title": null, "symbolType": "M-1,0H1.9"}}
 }}
], "spacing": 12, "resolve": {"scale": {"color": "independent", "strokeDash": "independent"}, "legend": {"color": "independent", "strokeDash": "independent"}}}
],
"config": {
 "font": "DejaVu Sans",
 "view": {"stroke": "#8c8c8c", "strokeWidth": 1},
 "axis": {"domain": false, "grid": true, "gridColor": "#e6e6e6", "gridWidth": 0.8, "tickColor": "#666666", "tickSize": 3.5, "labelFontSize": 7.5, "labelColor": "#333333", "labelFont": "DejaVu Sans", "labelPadding": 2, "titleFont": "DejaVu Sans", "titleFontSize": 9, "titleFontWeight": "bold", "titleColor": "#000000", "titlePadding": 3},
 "axisX": {"titlePadding": 1},
 "legend": {"orient": "top-right", "offset": 5, "fillColor": "rgba(255,255,255,0.8)", "strokeColor": "#d4d4d4", "cornerRadius": 2, "padding": 4, "labelFontSize": 9.3, "labelFont": "DejaVu Sans", "labelColor": "#222222", "symbolSize": 190, "symbolStrokeWidth": 1.6, "symbolFillColor": "transparent", "labelOffset": 13, "rowPadding": 0, "labelLimit": 300, "symbolOpacity": 0.85},
 "title": {"orient": "bottom", "frame": "bounds", "font": "Liberation Serif", "fontSize": 22.5, "fontWeight": "normal", "color": "#000000", "offset": 20, "anchor": "middle"}
}
}
